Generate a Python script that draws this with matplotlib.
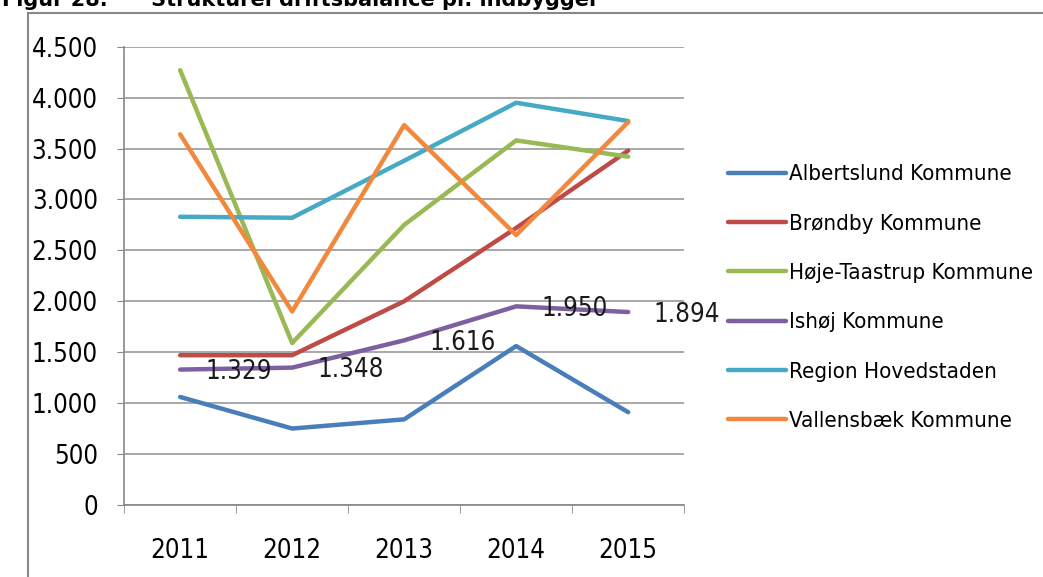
import matplotlib
matplotlib.use('Agg')
import matplotlib.pyplot as plt
from matplotlib.patches import Rectangle
from matplotlib import font_manager

years = ['2011', '2012', '2013', '2014', '2015']
albertslund = [1060, 750, 840, 1560, 910]
broendby = [1470, 1470, 2000, 2720, 3480]
hoeje_taastrup = [4270, 1590, 2750, 3580, 3420]
ishoej = [1329, 1348, 1616, 1950, 1894]
region_hovedstaden = [2830, 2820, 3380, 3950, 3770]
vallensbaek = [3640, 1900, 3730, 2650, 3760]

series = [
    ('Albertslund Kommune', albertslund, '#4A7EBB'),
    ('Brøndby Kommune', broendby, '#BE4B48'),
    ('Høje-Taastrup Kommune', hoeje_taastrup, '#98B954'),
    ('Ishøj Kommune', ishoej, '#7D60A0'),
    ('Region Hovedstaden', region_hovedstaden, '#46AAC5'),
    ('Vallensbæk Kommune', vallensbaek, '#F0883E'),
]

plt.rcParams['font.family'] = ['DejaVu Sans']
narrow = font_manager.FontProperties(family='DejaVu Sans', stretch='condensed', size=16)
ticks_font = font_manager.FontProperties(family='DejaVu Sans', stretch='condensed', size=18.5)

fig = plt.figure(figsize=(10.43, 5.77), dpi=100)
ax = fig.add_axes([0.119, 0.125, 0.537, 0.794])

x = list(range(1, len(years) + 1))
for name, vals, col in series:
    ax.plot(x, vals, color=col, lw=3.2, label=name, solid_capstyle='round')

# data labels for Ishøj
for xi, v in zip(x, ishoej):
    lab = f'{v:,}'.replace(',', '.')
    ax.annotate(lab, (xi, v), xytext=(18, -2), textcoords='offset points',
                ha='left', va='center', color='#1a1a1a', fontproperties=ticks_font)

ax.set_xlim(0.5, 5.5)
ax.set_ylim(0, 4500)
ax.set_yticks(range(0, 4501, 500))
ax.set_yticklabels([f'{v:,}'.replace(',', '.') for v in range(0, 4501, 500)],
                   fontproperties=ticks_font)
ax.set_xticks(x)
ax.set_xticklabels(years, fontproperties=ticks_font)
ax.set_xticks([i + 0.5 for i in range(0, 6)], minor=True)
ax.tick_params(axis='x', which='major', length=0, pad=24)
ax.tick_params(axis='x', which='minor', length=6, color='#888888')
ax.tick_params(axis='y', length=5, color='#888888', pad=14)
ax.grid(axis='y', color='#999999', lw=1.2)
ax.set_axisbelow(True)
for s in ['top', 'right']:
    ax.spines[s].set_visible(False)
for s in ['left', 'bottom']:
    ax.spines[s].set_color('#888888')
    ax.spines[s].set_linewidth(1.2)

ax.legend(loc='center left', bbox_to_anchor=(1.062, 0.452), frameon=False,
          prop=narrow, handlelength=2.6, handletextpad=0.15, labelspacing=1.32,
          borderaxespad=0)

# outer chart frame
fig.patches.append(Rectangle((28 / 1043, -0.1), 1.2, 1 - 13 / 577 + 0.1,
                             transform=fig.transFigure, fill=False,
                             edgecolor='#888888', lw=1.5))

fig.text(0.002, 1.0, 'Figur 28.      Strukturel driftsbalance pr. indbygger',
         ha='left', va='center', fontsize=15, fontweight='bold')

fig.savefig('out.png', dpi=100)
